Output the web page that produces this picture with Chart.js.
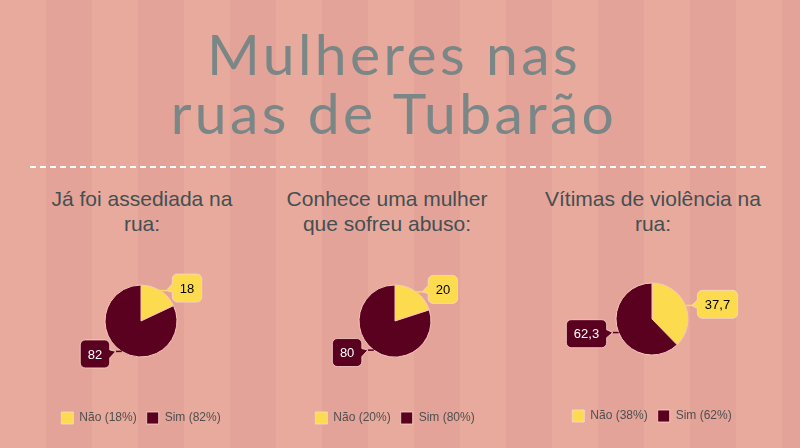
<!DOCTYPE html>
<html>
<head>
<meta charset="utf-8">
<script src="https://cdn.jsdelivr.net/npm/chart.js@4"></script>
<style>
    body {
        margin: 0;
        width: 800px;
        height: 448px;
        overflow: hidden;
        position: relative;
        font-family: "Liberation Sans", Arial, sans-serif;
        background: repeating-linear-gradient(90deg, #e8aa9c 0, #e8aa9c 46px, #e4a398 46px, #e4a398 92px);
    }
    #title {
        position: absolute;
        left: -6px;
        top: 24px;
        width: 800px;
        text-align: center;
        font-family: Lato, sans-serif;
        font-weight: 400;
        font-size: 57px;
        line-height: 59px;
        letter-spacing: 3.4px;
        color: #7b8686;
    }
    #rule {
        position: absolute;
        left: 30px;
        top: 166px;
        width: 740px;
        height: 1.5px;
        background: repeating-linear-gradient(90deg, #fff 0, #fff 6px, transparent 6px, transparent 10px);
    }
    .sub {
        position: absolute;
        top: 186px;
        width: 300px;
        text-align: center;
        font-size: 21px;
        line-height: 25px;
        color: #444f52;
    }
    .panel {
        position: absolute;
        top: 230px;
        width: 260px;
        height: 204px;
    }
</style>
</head>
<body>
<div id="title">Mulheres nas<br>ruas de Tubarão</div>
<div id="rule"></div>

<div class="sub" id="sub0" style="left:-8px"></div>
<div class="sub" id="sub1" style="left:237px"></div>
<div class="sub" id="sub2" style="left:503px"></div>

<div class="panel" style="left:11px"><canvas id="pie0"></canvas></div>
<div class="panel" style="left:265px"><canvas id="pie1"></canvas></div>
<div class="panel" style="left:522px;top:228px"><canvas id="pie2"></canvas></div>

<script>
// data
const answerLabels = ["Não", "Sim"];
const harassedValues = [18, 82];
const knowsVictimValues = [20, 80];
const violenceValues = [37.7, 62.3];
const subtitles = [
    "Já foi assediada na<br>rua:",
    "Conhece uma mulher<br>que sofreu abuso:",
    "Vítimas de violência na<br>rua:"
];

const YELLOW = "#fcdc4e";
const MAROON = "#5b0120";
const EDGE = "#f6c6bc";

// 🏷️ callout boxes like the original data labels
const calloutPlugin = {
    id: "callouts",
    afterDatasetsDraw(chart) {
        const ctx = chart.ctx;
        const ds = chart.data.datasets[0];
        const meta = chart.getDatasetMeta(0);

        meta.data.forEach((arc, i) => {
            const p = arc.getProps(["x", "y", "startAngle", "endAngle", "outerRadius"], true);
            const mid = (p.startAngle + p.endAngle) / 2;
            const ax = p.x + Math.cos(mid) * p.outerRadius;
            const ay = p.y + Math.sin(mid) * p.outerRadius;
            const right = Math.cos(mid) >= 0;

            const text = String(ds.data[i]).replace(".", ",");
            ctx.save();
            ctx.font = '13px "Liberation Sans", Arial, sans-serif';
            const w = ctx.measureText(text).width + 15;
            const h = 28;
            const r = 5;
            const bx = right ? ax + 12 : ax - 12 - w;
            const cy = ay + 3 * Math.sin(mid);
            const by = cy - h / 2;
            const tip = right ? bx - 6 : bx + w + 6;

            // connector
            ctx.strokeStyle = ds.backgroundColor[i];
            ctx.lineWidth = 1.5;
            ctx.beginPath();
            ctx.moveTo(ax, ay);
            ctx.lineTo(tip, ay);
            ctx.stroke();

            // box with beak
            ctx.beginPath();
            ctx.moveTo(bx + r, by);
            ctx.lineTo(bx + w - r, by);
            ctx.arcTo(bx + w, by, bx + w, by + r, r);
            if (!right) {
                ctx.lineTo(bx + w, cy - 4);
                ctx.lineTo(tip, ay);
                ctx.lineTo(bx + w, cy + 4);
            }
            ctx.lineTo(bx + w, by + h - r);
            ctx.arcTo(bx + w, by + h, bx + w - r, by + h, r);
            ctx.lineTo(bx + r, by + h);
            ctx.arcTo(bx, by + h, bx, by + h - r, r);
            if (right) {
                ctx.lineTo(bx, cy + 4);
                ctx.lineTo(tip, ay);
                ctx.lineTo(bx, cy - 4);
            }
            ctx.lineTo(bx, by + r);
            ctx.arcTo(bx, by, bx + r, by, r);
            ctx.closePath();
            ctx.fillStyle = ds.backgroundColor[i];
            ctx.fill();
            ctx.strokeStyle = "rgba(250,215,205,0.8)";
            ctx.lineWidth = 1;
            ctx.stroke();

            ctx.fillStyle = i === 0 ? "#000" : "#fff";
            ctx.textAlign = "center";
            ctx.textBaseline = "middle";
            ctx.fillText(text, bx + w / 2, cy + 1);
            ctx.restore();
        });
    }
};

function makePie(id, values) {
    const ctx = document.getElementById(id).getContext("2d");
    return new Chart(ctx, {
        type: "pie",
        data: {
            labels: answerLabels,
            datasets: [{
                data: values,
                backgroundColor: [YELLOW, MAROON],
                borderColor: EDGE,
                borderWidth: 1,
                radius: 36
            }]
        },
        options: {
            responsive: true,
            maintainAspectRatio: false,
            animation: false,
            layout: { padding: { top: 10 } },
            plugins: {
                tooltip: { enabled: false },
                legend: {
                    position: "bottom",
                    labels: {
                        boxWidth: 12,
                        boxHeight: 12,
                        padding: 10,
                        color: "#4f4f4f",
                        font: { family: '"Liberation Sans", Arial, sans-serif', size: 12 },
                        generateLabels(chart) {
                            const d = chart.data.datasets[0];
                            const total = d.data.reduce((a, b) => a + b, 0);
                            return chart.data.labels.map((l, i) => ({
                                text: `${l} (${Math.round(d.data[i] / total * 100)}%)`,
                                fillStyle: d.backgroundColor[i],
                                strokeStyle: "rgba(250,215,205,0.8)",
                                lineWidth: 1,
                                fontColor: "#4f4f4f",
                                hidden: false,
                                index: i
                            }));
                        }
                    }
                }
            }
        },
        plugins: [calloutPlugin]
    });
}

subtitles.forEach((s, i) => {
    document.getElementById("sub" + i).innerHTML = s;
});

makePie("pie0", harassedValues);
makePie("pie1", knowsVictimValues);
makePie("pie2", violenceValues);
</script>
</body>
</html>
